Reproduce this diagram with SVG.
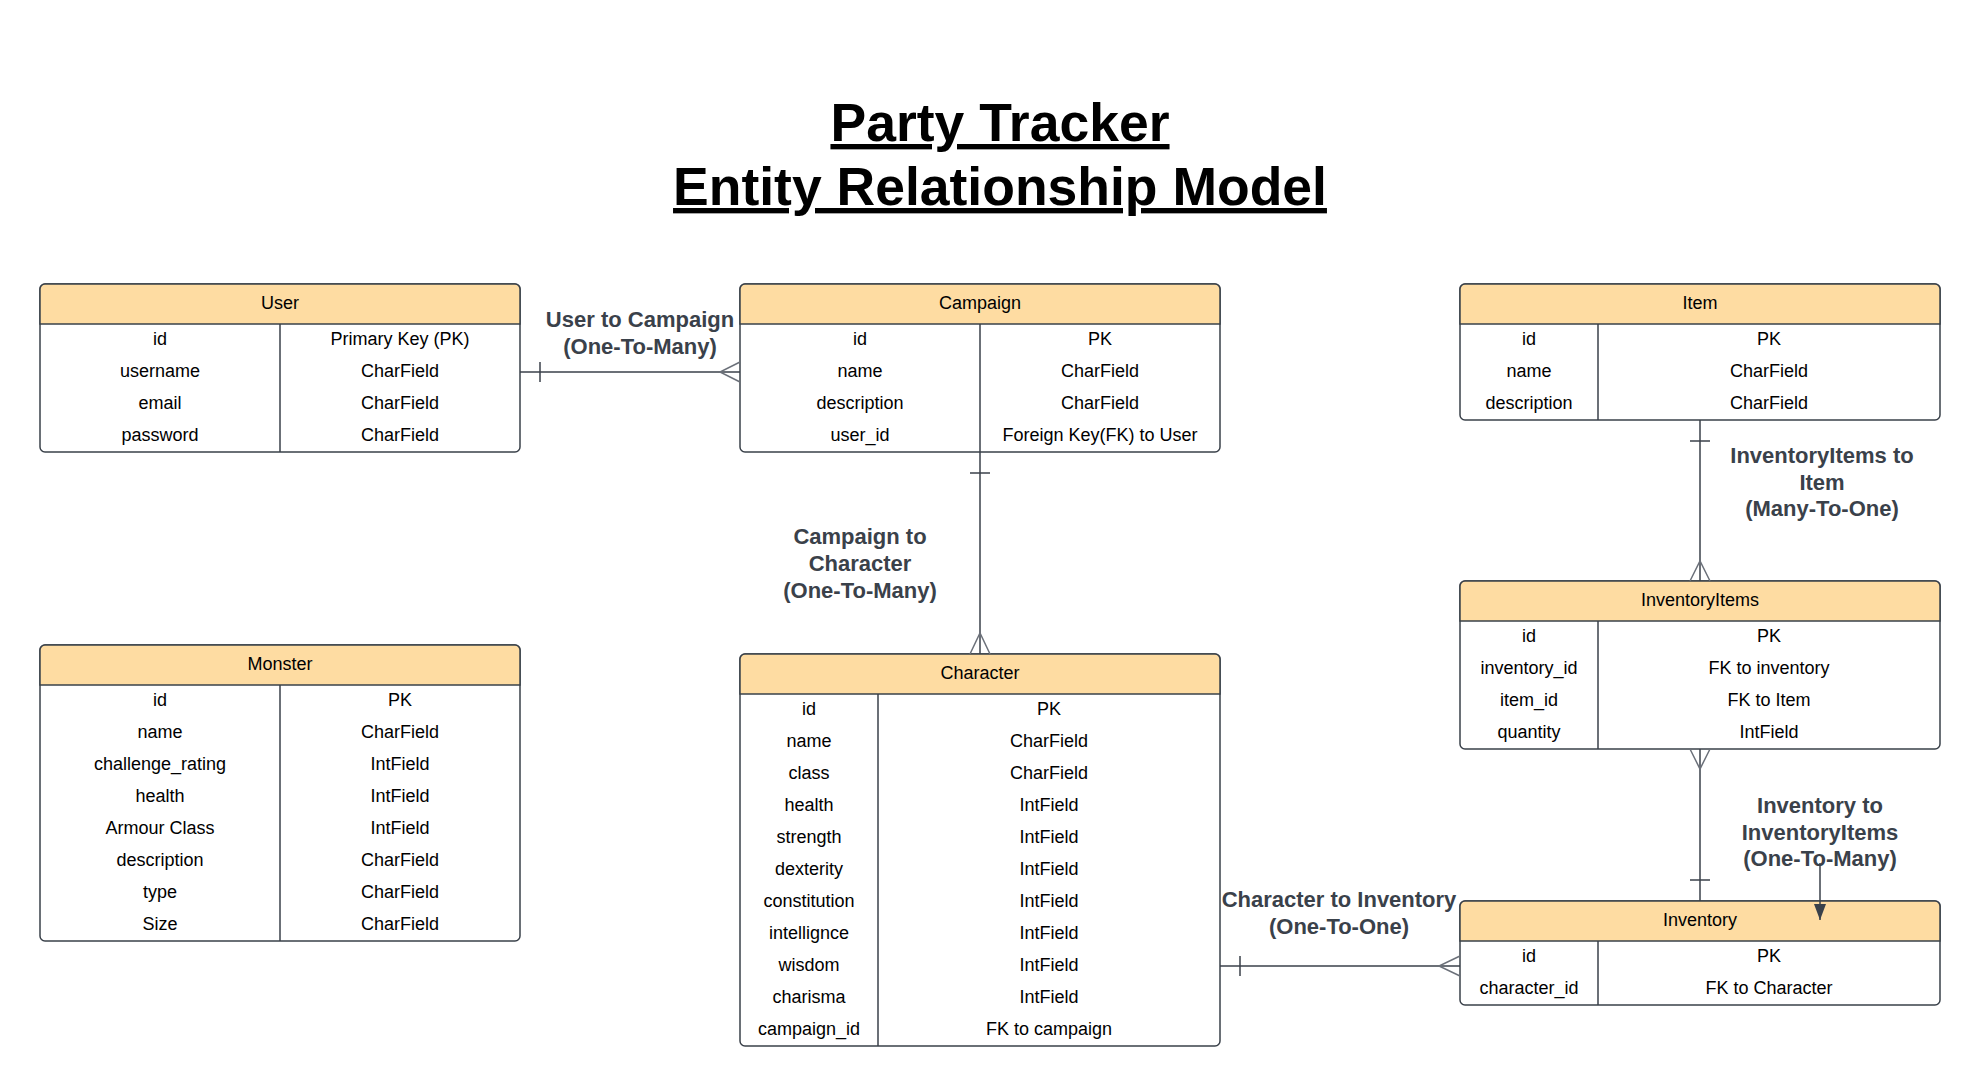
<svg xmlns="http://www.w3.org/2000/svg" width="1980" height="1086" viewBox="0 0 1980 1086">
<style>
.bg{fill:#ffffff}
.box{fill:#ffffff;stroke:#3a414a;stroke-width:1.5}
.hdr{fill:#fedca2;stroke:#3a414a;stroke-width:1.5}
.sep{stroke:#3a414a;stroke-width:1.5;fill:none}
.t{font-family:"Liberation Sans",Arial,sans-serif;font-size:18px;fill:#000;text-anchor:middle}
.lbl{font-family:"Liberation Sans",Arial,sans-serif;font-size:22px;font-weight:bold;fill:#3a414a;text-anchor:middle}
.title{font-family:"Liberation Sans",Arial,sans-serif;font-size:53.5px;font-weight:bold;fill:#000;text-anchor:middle;text-decoration:underline}
.ln{stroke:#3a414a;stroke-width:1.5;fill:none}
.crow{stroke:#6b7079;stroke-width:1.5;fill:none}
</style>
<defs>
<marker id="arr" viewBox="0 0 16 12" refX="16" refY="6" markerWidth="16" markerHeight="12" markerUnits="userSpaceOnUse" orient="auto">
<path d="M0,0 L16,6 L0,12 Z" fill="#3a414a"/>
</marker>
</defs>
<rect class="bg" x="0" y="0" width="1980" height="1086"/>

<g id="title">
<text class="title" x="1000" y="141">Party Tracker</text>
<text class="title" x="1000" y="205">Entity Relationship Model</text>
</g>

<g id="labels">
<text class="lbl" x="640" y="327">User to Campaign</text>
<text class="lbl" x="640" y="354">(One-To-Many)</text>
<text class="lbl" x="860" y="544">Campaign to</text>
<text class="lbl" x="860" y="571">Character</text>
<text class="lbl" x="860" y="598">(One-To-Many)</text>
<text class="lbl" x="1822" y="463">InventoryItems to</text>
<text class="lbl" x="1822" y="490">Item</text>
<text class="lbl" x="1822" y="516">(Many-To-One)</text>
<text class="lbl" x="1820" y="813">Inventory to</text>
<text class="lbl" x="1820" y="840">InventoryItems</text>
<text class="lbl" x="1820" y="866">(One-To-Many)</text>
<text class="lbl" x="1339" y="907">Character to Inventory</text>
<text class="lbl" x="1339" y="934">(One-To-One)</text>
</g>

<g id="user">
<rect class="box" x="40" y="284" width="480" height="168" rx="5"/>
<path class="hdr" d="M45,284 H515 A5,5 0 0 1 520,289 V324 H40 V289 A5,5 0 0 1 45,284 Z"/>
<line class="sep" x1="280" y1="324" x2="280" y2="452"/>
<text class="t" x="280" y="308.5">User</text>
<text class="t" x="160" y="344.5">id</text><text class="t" x="400" y="344.5">Primary Key (PK)</text>
<text class="t" x="160" y="376.5">username</text><text class="t" x="400" y="376.5">CharField</text>
<text class="t" x="160" y="408.5">email</text><text class="t" x="400" y="408.5">CharField</text>
<text class="t" x="160" y="440.5">password</text><text class="t" x="400" y="440.5">CharField</text>
</g>

<g id="campaign">
<rect class="box" x="740" y="284" width="480" height="168" rx="5"/>
<path class="hdr" d="M745,284 H1215 A5,5 0 0 1 1220,289 V324 H740 V289 A5,5 0 0 1 745,284 Z"/>
<line class="sep" x1="980" y1="324" x2="980" y2="452"/>
<text class="t" x="980" y="308.5">Campaign</text>
<text class="t" x="860" y="344.5">id</text><text class="t" x="1100" y="344.5">PK</text>
<text class="t" x="860" y="376.5">name</text><text class="t" x="1100" y="376.5">CharField</text>
<text class="t" x="860" y="408.5">description</text><text class="t" x="1100" y="408.5">CharField</text>
<text class="t" x="860" y="440.5">user_id</text><text class="t" x="1100" y="440.5">Foreign Key(FK) to User</text>
</g>

<g id="item">
<rect class="box" x="1460" y="284" width="480" height="136" rx="5"/>
<path class="hdr" d="M1465,284 H1935 A5,5 0 0 1 1940,289 V324 H1460 V289 A5,5 0 0 1 1465,284 Z"/>
<line class="sep" x1="1598" y1="324" x2="1598" y2="420"/>
<text class="t" x="1700" y="308.5">Item</text>
<text class="t" x="1529" y="344.5">id</text><text class="t" x="1769" y="344.5">PK</text>
<text class="t" x="1529" y="376.5">name</text><text class="t" x="1769" y="376.5">CharField</text>
<text class="t" x="1529" y="408.5">description</text><text class="t" x="1769" y="408.5">CharField</text>
</g>

<g id="inventoryitems">
<rect class="box" x="1460" y="581" width="480" height="168" rx="5"/>
<path class="hdr" d="M1465,581 H1935 A5,5 0 0 1 1940,586 V621 H1460 V586 A5,5 0 0 1 1465,581 Z"/>
<line class="sep" x1="1598" y1="621" x2="1598" y2="749"/>
<text class="t" x="1700" y="605.5">InventoryItems</text>
<text class="t" x="1529" y="641.5">id</text><text class="t" x="1769" y="641.5">PK</text>
<text class="t" x="1529" y="673.5">inventory_id</text><text class="t" x="1769" y="673.5">FK to inventory</text>
<text class="t" x="1529" y="705.5">item_id</text><text class="t" x="1769" y="705.5">FK to Item</text>
<text class="t" x="1529" y="737.5">quantity</text><text class="t" x="1769" y="737.5">IntField</text>
</g>

<g id="monster">
<rect class="box" x="40" y="645" width="480" height="296" rx="5"/>
<path class="hdr" d="M45,645 H515 A5,5 0 0 1 520,650 V685 H40 V650 A5,5 0 0 1 45,645 Z"/>
<line class="sep" x1="280" y1="685" x2="280" y2="941"/>
<text class="t" x="280" y="669.5">Monster</text>
<text class="t" x="160" y="705.5">id</text><text class="t" x="400" y="705.5">PK</text>
<text class="t" x="160" y="737.5">name</text><text class="t" x="400" y="737.5">CharField</text>
<text class="t" x="160" y="769.5">challenge_rating</text><text class="t" x="400" y="769.5">IntField</text>
<text class="t" x="160" y="801.5">health</text><text class="t" x="400" y="801.5">IntField</text>
<text class="t" x="160" y="833.5">Armour Class</text><text class="t" x="400" y="833.5">IntField</text>
<text class="t" x="160" y="865.5">description</text><text class="t" x="400" y="865.5">CharField</text>
<text class="t" x="160" y="897.5">type</text><text class="t" x="400" y="897.5">CharField</text>
<text class="t" x="160" y="929.5">Size</text><text class="t" x="400" y="929.5">CharField</text>
</g>

<g id="character">
<rect class="box" x="740" y="654" width="480" height="392" rx="5"/>
<path class="hdr" d="M745,654 H1215 A5,5 0 0 1 1220,659 V694 H740 V659 A5,5 0 0 1 745,654 Z"/>
<line class="sep" x1="878" y1="694" x2="878" y2="1046"/>
<text class="t" x="980" y="678.5">Character</text>
<text class="t" x="809" y="714.5">id</text><text class="t" x="1049" y="714.5">PK</text>
<text class="t" x="809" y="746.5">name</text><text class="t" x="1049" y="746.5">CharField</text>
<text class="t" x="809" y="778.5">class</text><text class="t" x="1049" y="778.5">CharField</text>
<text class="t" x="809" y="810.5">health</text><text class="t" x="1049" y="810.5">IntField</text>
<text class="t" x="809" y="842.5">strength</text><text class="t" x="1049" y="842.5">IntField</text>
<text class="t" x="809" y="874.5">dexterity</text><text class="t" x="1049" y="874.5">IntField</text>
<text class="t" x="809" y="906.5">constitution</text><text class="t" x="1049" y="906.5">IntField</text>
<text class="t" x="809" y="938.5">intellignce</text><text class="t" x="1049" y="938.5">IntField</text>
<text class="t" x="809" y="970.5">wisdom</text><text class="t" x="1049" y="970.5">IntField</text>
<text class="t" x="809" y="1002.5">charisma</text><text class="t" x="1049" y="1002.5">IntField</text>
<text class="t" x="809" y="1034.5">campaign_id</text><text class="t" x="1049" y="1034.5">FK to campaign</text>
</g>

<g id="inventory">
<rect class="box" x="1460" y="901" width="480" height="104" rx="5"/>
<path class="hdr" d="M1465,901 H1935 A5,5 0 0 1 1940,906 V941 H1460 V906 A5,5 0 0 1 1465,901 Z"/>
<line class="sep" x1="1598" y1="941" x2="1598" y2="1005"/>
<text class="t" x="1700" y="925.5">Inventory</text>
<text class="t" x="1529" y="961.5">id</text><text class="t" x="1769" y="961.5">PK</text>
<text class="t" x="1529" y="993.5">character_id</text><text class="t" x="1769" y="993.5">FK to Character</text>
</g>

<g id="connectors">
<line class="ln" x1="520" y1="372" x2="740" y2="372"/>
<line class="ln" x1="540" y1="362" x2="540" y2="382"/>
<path class="crow" d="M740,362 L720,372 L740,382"/>
<line class="ln" x1="980" y1="452" x2="980" y2="654"/>
<line class="ln" x1="970" y1="473" x2="990" y2="473"/>
<path class="crow" d="M970,654 L980,633 L990,654"/>
<line class="ln" x1="1700" y1="420" x2="1700" y2="581"/>
<line class="ln" x1="1690" y1="441" x2="1710" y2="441"/>
<path class="crow" d="M1690,581 L1700,561 L1710,581"/>
<line class="ln" x1="1700" y1="749" x2="1700" y2="901"/>
<line class="ln" x1="1690" y1="880" x2="1710" y2="880"/>
<path class="crow" d="M1690,749 L1700,769 L1710,749"/>
<line class="ln" x1="1220" y1="966" x2="1460" y2="966"/>
<line class="ln" x1="1240" y1="956" x2="1240" y2="976"/>
<path class="crow" d="M1460,956 L1439,966 L1460,976"/>
<line class="ln" x1="1820" y1="863" x2="1820" y2="920" marker-end="url(#arr)"/>
</g>
</svg>
